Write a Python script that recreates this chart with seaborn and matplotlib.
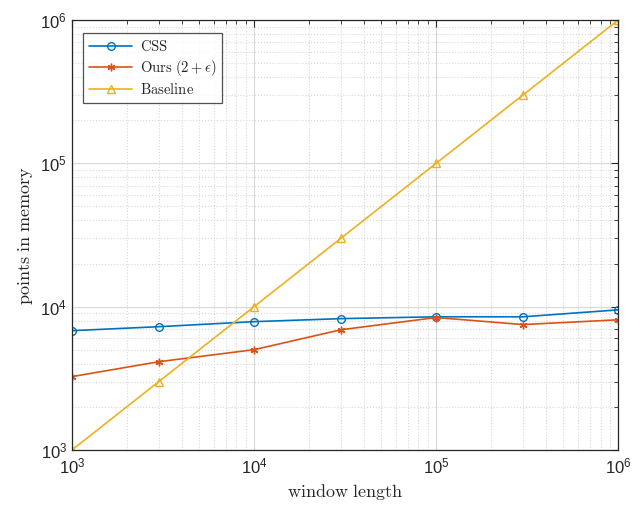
import numpy as np
import pandas as pd
import matplotlib
matplotlib.use("Agg")
import matplotlib.pyplot as plt
import seaborn as sns
from matplotlib.ticker import LogLocator, NullFormatter

window = [1e3, 3e3, 1e4, 3e4, 1e5, 3e5, 1e6]
css = [6800, 7250, 7860, 8250, 8500, 8500, 9500]
ours = [3250, 4130, 5010, 6900, 8400, 7500, 8100]
baseline = [1e3, 3e3, 1e4, 3e4, 1e5, 3e5, 1e6]

labels = [r"$\mathrm{CSS}$", r"$\mathrm{Ours}\ (2+\epsilon)$", r"$\mathrm{Baseline}$"]
colors = ["#0072BD", "#D95319", "#EDB120"]

sns.set_style("white")
plt.rcParams["mathtext.fontset"] = "cm"
plt.rcParams["font.family"] = ["Liberation Sans", "DejaVu Sans"]

fig = plt.figure(figsize=(6.42, 5.07), dpi=100)
ax = fig.add_axes([0.112, 0.1124, 0.851, 0.8482])

series = [css, ours, baseline]
markers = ["o", (6, 2, 0), "^"]
for vals, lab, col, mk in zip(series, labels, colors, markers):
    df = pd.DataFrame({"x": window, "y": vals})
    sns.lineplot(data=df, x="x", y="y", ax=ax, color=col, label=lab,
                 marker=mk, markersize=5.5, markerfacecolor="none",
                 markeredgecolor=col, markeredgewidth=1.0, linewidth=1.2)

ax.set_xscale("log")
ax.set_yscale("log")
ax.set_xlim(1e3, 1e6)
ax.set_ylim(1e3, 1e6)
ax.xaxis.set_major_locator(LogLocator(base=10, numticks=10))
ax.yaxis.set_major_locator(LogLocator(base=10, numticks=10))
ax.xaxis.set_minor_locator(LogLocator(base=10, subs=np.arange(2, 10), numticks=20))
ax.yaxis.set_minor_locator(LogLocator(base=10, subs=np.arange(2, 10), numticks=20))
ax.xaxis.set_minor_formatter(NullFormatter())
ax.yaxis.set_minor_formatter(NullFormatter())

ax.grid(True, which="major", color="#d9d9d9", linestyle="-", linewidth=0.8)
ax.grid(True, which="minor", color="#d8d8d8", linestyle=":", linewidth=0.8)
ax.set_axisbelow(True)

for s in ax.spines.values():
    s.set_visible(True)
    s.set_color("#262626")
    s.set_linewidth(0.9)

ax.tick_params(which="both", direction="in", top=True, right=True,
               labelsize=12, colors="#262626")
ax.tick_params(which="major", length=5)
ax.tick_params(which="minor", length=3)
ax.tick_params(axis="x", which="major", pad=5)

ax.set_xlabel(r"$\mathrm{window\ length}$", fontsize=13, color="#262626")
ax.set_ylabel(r"$\mathrm{points\ in\ memory}$", fontsize=13, color="#262626")

leg = ax.legend(loc="upper left", bbox_to_anchor=(0.02, 0.97), fontsize=10.5,
                frameon=True, fancybox=False, edgecolor="#262626",
                borderpad=0.4, borderaxespad=0, handlelength=3.0,
                labelspacing=0.3, handletextpad=0.5)
leg.get_frame().set_linewidth(0.9)

fig.savefig("out.png", dpi=100)
